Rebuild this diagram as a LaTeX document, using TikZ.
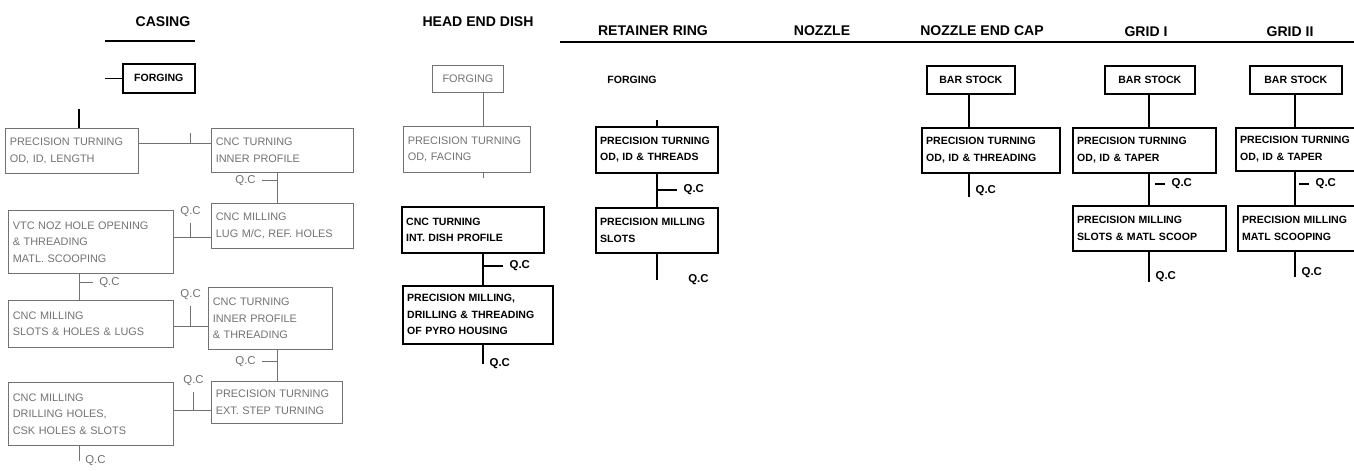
\documentclass[tikz,border=0pt]{standalone}
\usepackage{fontspec}
\setsansfont{Liberation Sans}
\usetikzlibrary{arrows.meta, positioning}
\definecolor{cfaint}{HTML}{727272}
\tikzset{
  every picture/.style={font=\sffamily},
  wh/.style 2 args={minimum width=#1*0.02cm, minimum height=#2*0.02cm, text width=#1*0.02cm-5pt},
  proc/.style={draw=black, line width=0.9pt, anchor=north west, align=left, inner xsep=2.5pt, inner ysep=0pt, font=\sffamily\bfseries\fontsize{6}{9.4}\selectfont},
  pale/.style={draw=cfaint, text=cfaint, line width=0.5pt, anchor=north west, align=left, inner xsep=2.5pt, inner ysep=0pt, font=\sffamily\fontsize{6.2}{9.4}\selectfont},
  title/.style={font=\sffamily\bfseries\fontsize{8}{9}\selectfont},
  qc/.style={font=\sffamily\bfseries\fontsize{6.5}{8}\selectfont},
  paleqc/.style={font=\sffamily\fontsize{6.5}{8}\selectfont, text=cfaint},
  link/.style={line width=0.9pt},
  palelink/.style={draw=cfaint, line width=0.5pt},
  headline/.style={line width=1.1pt},
}

\begin{document}
\begin{tikzpicture}[x=0.02cm, y=-0.02cm]
  \useasboundingbox (0,0) rectangle (1354,470);
  % titles
  \node[title] (tcas) at (163,22) {CASING};
  \node[title] (thed) at (478,22) {HEAD END DISH};
  \node[title] (tret) at (653,31) {RETAINER RING};
  \node[title] (tnoz) at (822,31) {NOZZLE};
  \node[title] (tnec) at (982,31) {NOZZLE END CAP};
  \node[title] (tgr1) at (1146,32) {GRID I};
  \node[title] (tgr2) at (1290,32) {GRID II};
  \draw[headline] (105,41) -- (195,41);
  \draw[headline] (560,42) -- (1354,42);

  % casing
  \node[proc, wh={72}{29}, align=center] (cforge) at (122,63) {FORGING};
  \node[pale, wh={133}{45}] (cpt) at (5,128) {PRECISION TURNING\\OD, ID, LENGTH};
  \node[pale, wh={142}{44}] (cct1) at (211,128) {CNC TURNING\\INNER PROFILE};
  \node[pale, wh={142}{45}] (cml1) at (211,203) {CNC MILLING\\LUG M/C, REF. HOLES};
  \node[pale, wh={165}{63}] (cvtc) at (8,210) {VTC NOZ HOLE OPENING\\\& THREADING\\MATL. SCOOPING};
  \node[pale, wh={165}{47}] (cml2) at (8,300) {CNC MILLING\\SLOTS \& HOLES \& LUGS};
  \node[pale, wh={124}{62}] (cct2) at (208,287) {CNC TURNING\\INNER PROFILE\\\& THREADING};
  \node[pale, wh={131}{42}] (cpt2) at (211,381) {PRECISION TURNING\\EXT. STEP TURNING};
  \node[pale, wh={165}{63}] (cml3) at (8,382) {CNC MILLING\\DRILLING HOLES,\\CSK HOLES \& SLOTS};
  \coordinate (cx1) at (79,0);
  \coordinate (cx2) at (277,0);
  \coordinate (cy1) at (0,143);
  \coordinate (cy2) at (0,237);
  \coordinate (cy3) at (0,326);
  \coordinate (cy4) at (0,410);
  \draw[link] (cforge.west) -- ++(-17,0);
  \draw[link, line width=1.3pt] (cpt.north -| cx1) -- ++(0,-19);
  \draw[palelink] (cpt.east |- cy1) -- coordinate[pos=0.71] (q1) (cct1.west |- cy1);
  \draw[palelink] (q1) -- ++(0,-10);
  \draw[palelink] (cct1.south -| cx2) -- coordinate[pos=0.26] (q2) (cml1.north -| cx2);
  \draw[palelink] (q2) -- ++(-15,0) node[left, paleqc] {Q.C};
  \draw[palelink] (cml1.west |- cy2) -- coordinate[pos=0.55] (q3) (cvtc.east |- cy2);
  \draw[palelink] (q3) -- ++(0,-14) node[above, paleqc] {Q.C};
  \draw[palelink] (cvtc.south -| cx1) -- coordinate[pos=0.33] (q4) (cml2.north -| cx1);
  \draw[palelink] (q4) -- ++(14,0) node[right, paleqc] {Q.C};
  \draw[palelink] (cml2.east |- cy3) -- coordinate[pos=0.49] (q5) (cct2.west |- cy3);
  \draw[palelink] (q5) -- ++(0,-20) node[above, paleqc] {Q.C};
  \draw[palelink] (cct2.south -| cx2) -- coordinate[pos=0.37] (q6) (cpt2.north -| cx2);
  \draw[palelink] (q6) -- ++(-15,0) node[left, paleqc] {Q.C};
  \draw[palelink] (cpt2.west |- cy4) -- coordinate[pos=0.47] (q7) (cml3.east |- cy4);
  \draw[palelink] (q7) -- ++(0,-18) node[above, paleqc] {Q.C};
  \draw[palelink] (cml3.south -| cx1) -- ++(0,15) node[right, paleqc] {Q.C};

  % head end dish
  \node[pale, wh={71}{27}, align=center] (hforge) at (432,65) {FORGING};
  \node[pale, wh={127}{46}] (hpt) at (403,126) {PRECISION TURNING\\OD, FACING};
  \node[proc, wh={142}{46}] (hct) at (401,206) {CNC TURNING\\INT. DISH PROFILE};
  \node[proc, wh={150}{58}] (hml) at (402,285) {PRECISION MILLING,\\DRILLING \& THREADING\\OF PYRO HOUSING};
  \coordinate (hx) at (483,0);
  \draw[palelink] (hforge.south -| hx) -- (hpt.north -| hx);
  \draw[palelink] (hpt.south -| hx) -- ++(0,5);
  \draw[link] (hct.south -| hx) -- coordinate[pos=0.39] (q8) (hml.north -| hx);
  \draw[link] (q8) -- ++(20,0) node[right, qc] {Q.C};
  \draw[link] (hml.south -| hx) -- ++(0,19) node[right, qc] {Q.C};

  % retainer ring
  \node[qc, font=\sffamily\bfseries\fontsize{6}{8}\selectfont] (rforge) at (632,80) {FORGING};
  \node[proc, wh={122}{46}] (rpt) at (595,126) {PRECISION TURNING\\OD, ID \& THREADS};
  \node[proc, wh={122}{45}] (rml) at (595,207) {PRECISION MILLING\\SLOTS};
  \coordinate (rx) at (657,0);
  \draw[link] (rpt.north -| rx) -- ++(0,-6);
  \draw[link] (rpt.south -| rx) -- coordinate[pos=0.49] (q9) (rml.north -| rx);
  \draw[link] (q9) -- ++(20,0) node[right, qc] {Q.C};
  \draw[link] (rml.south -| rx) -- ++(0,26) node[right=14pt, qc] {Q.C};

  % nozzle end cap
  \node[proc, wh={88}{28}, align=center] (nbar) at (926,65) {BAR STOCK};
  \node[proc, wh={138}{45}] (npt) at (921,127) {PRECISION TURNING\\OD, ID \& THREADING};
  \coordinate (nx) at (969,0);
  \draw[link] (nbar.south -| nx) -- (npt.north -| nx);
  \draw[link] (npt.south -| nx) -- ++(0,23) node[pos=0.75, right, qc] {Q.C};

  % grid I
  \node[proc, wh={90}{28}, align=center] (g1bar) at (1104,65) {BAR STOCK};
  \node[proc, wh={143}{45}] (g1pt) at (1072,127) {PRECISION TURNING\\OD, ID \& TAPER};
  \node[proc, wh={153}{45}] (g1ml) at (1072,205) {PRECISION MILLING\\SLOTS \& MATL SCOOP};
  \coordinate (g1x) at (1149,0);
  \draw[link] (g1bar.south -| g1x) -- (g1pt.north -| g1x);
  \draw[link] (g1pt.south -| g1x) -- coordinate[pos=0.33] (q10) (g1ml.north -| g1x);
  \draw[link] (q10) ++(6,0) -- ++(10,0) node[right, qc] {Q.C};
  \draw[link] (g1ml.south -| g1x) -- ++(0,30) node[pos=0.85, right, qc] {Q.C};

  % grid II
  \node[proc, wh={92}{28}, align=center] (g2bar) at (1249,65) {BAR STOCK};
  \node[proc, wh={140}{43}] (g2pt) at (1235,127) {PRECISION TURNING\\OD, ID \& TAPER};
  \node[proc, wh={140}{45}] (g2ml) at (1237,205) {PRECISION MILLING\\MATL SCOOPING};
  \coordinate (g2x) at (1295,0);
  \draw[link] (g2bar.south -| g2x) -- (g2pt.north -| g2x);
  \draw[link] (g2pt.south -| g2x) -- coordinate[pos=0.37] (q11) (g2ml.north -| g2x);
  \draw[link] (q11) ++(4,0) -- ++(10,0) node[right, qc] {Q.C};
  \draw[link] (g2ml.south -| g2x) -- ++(0,25) node[pos=0.85, right, qc] {Q.C};
\end{tikzpicture}
\end{document}
